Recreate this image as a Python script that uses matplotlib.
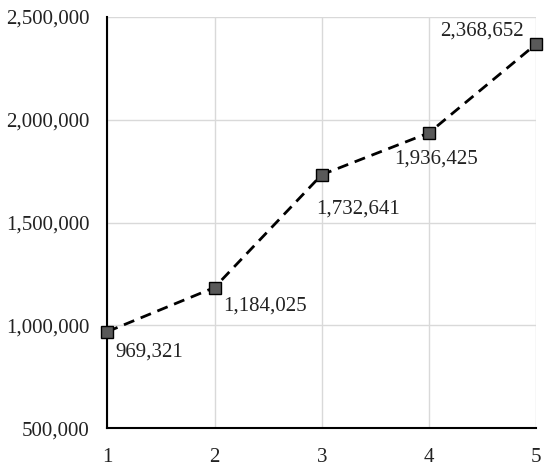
import matplotlib.pyplot as plt
from matplotlib.ticker import FuncFormatter

plt.rcParams['font.family'] = ['Liberation Serif', 'DejaVu Serif']

years = [1, 2, 3, 4, 5]
values = [969321, 1184025, 1732641, 1936425, 2368652]
# label offsets in points (dx, dy) and alignment per point
label_pos = [(6, -15, 'left'), (6, -13, 'left'), (-4, -25, 'left'), (-25, -19, 'left'), (-9, 9, 'right')]

fig = plt.figure(figsize=(5.5, 4.71), dpi=100)
ax = fig.add_axes([0.195, 0.091, 0.78, 0.873])

ax.plot(years, values, color='black', linestyle=(0, (4, 2.5)), linewidth=2,
        marker='s', markersize=8, markerfacecolor='#595959',
        markeredgecolor='black', markeredgewidth=1, zorder=3, clip_on=False)

for x, y, (dx, dy, ha) in zip(years, values, label_pos):
    ax.annotate(f'{y:,}', (x, y), xytext=(dx, dy), textcoords='offset points',
                ha=ha, va='center', fontsize=15, color='#222222')

ax.set_xlim(1, 5)
ax.set_ylim(500000, 2500000)
ax.set_xticks(years)
ax.set_yticks([500000, 1000000, 1500000, 2000000, 2500000])
ax.yaxis.set_major_formatter(FuncFormatter(lambda v, p: f'{int(v):,}'))
ax.tick_params(length=0, labelsize=15, labelcolor='#222222')
ax.tick_params(axis='y', pad=13)
ax.tick_params(axis='x', pad=14)
ax.grid(True, color='#d9d9d9', linewidth=1)
ax.set_axisbelow(True)
for s in ['top', 'right']:
    ax.spines[s].set_visible(False)
for s in ['left', 'bottom']:
    ax.spines[s].set_linewidth(1.5)

fig.savefig('out.png', dpi=100)
